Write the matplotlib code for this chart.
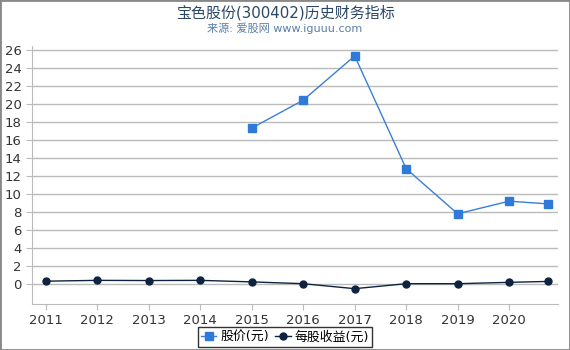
import matplotlib
matplotlib.use("Agg")
import matplotlib.pyplot as plt

plt.rcParams['font.family'] = ['DejaVu Sans', 'Noto Sans CJK SC']

# data
price_x = [2015, 2016, 2017, 2018, 2019, 2020, 2020.75]
price = [17.3, 20.4, 25.3, 12.8, 7.8, 9.2, 8.9]
eps_x = [2011, 2012, 2013, 2014, 2015, 2016, 2017, 2018, 2019, 2020, 2020.75]
eps = [0.33, 0.42, 0.40, 0.42, 0.25, 0.05, -0.50, 0.05, 0.05, 0.20, 0.30]
years = list(range(2011, 2021))
yticks = list(range(0, 27, 2))

fig = plt.figure(figsize=(5.7, 3.5), dpi=100)
ax = fig.add_axes([32/570, 46/350, 526/570, 258/350])

ax.plot(price_x, price, color='#3a7fd5', lw=1, marker='s', ms=5.5,
        markerfacecolor='#2f7ad8', markeredgecolor='#2f7ad8', label='股价(元)')
ax.plot(eps_x, eps, color='#0f2340', lw=1, marker='o', ms=5,
        label='每股收益(元)')

ax.set_xlim(2010.73, 2020.95)
ax.set_ylim(-2.2, 26.4)
ax.set_xticks(years)
ax.set_yticks(yticks)
ax.yaxis.grid(True, color='#bbbbbb', lw=1)
ax.set_axisbelow(True)
for s in ['top', 'right']:
    ax.spines[s].set_visible(False)
for s in ['left', 'bottom']:
    ax.spines[s].set_color('#bbbbbb')
ax.tick_params(axis='both', colors='#bbbbbb', labelcolor='#333333', labelsize=9.5, length=4)

fig.text(0.5, 0.965, '宝色股份(300402)历史财务指标', ha='center', va='center',
         fontsize=10.8, color='#2b4766')
fig.text(0.5, 0.918, '来源: 爱股网 www.iguuu.com', ha='center', va='center',
         fontsize=8, color='#5a7fa8')

leg = fig.legend(loc='center', bbox_to_anchor=(0.5, 1 - 337/350), ncol=2,
                 frameon=True, fontsize=9.3, handlelength=1.2, handletextpad=0.3,
                 columnspacing=0.5, borderpad=0.25, fancybox=False)
leg.get_frame().set_edgecolor('black')

border = plt.Rectangle((0, 0), 1, 1, transform=fig.transFigure, fill=False,
                       edgecolor='#888888', lw=2)
fig.patches.append(border)

fig.savefig('out.png', dpi=100)
